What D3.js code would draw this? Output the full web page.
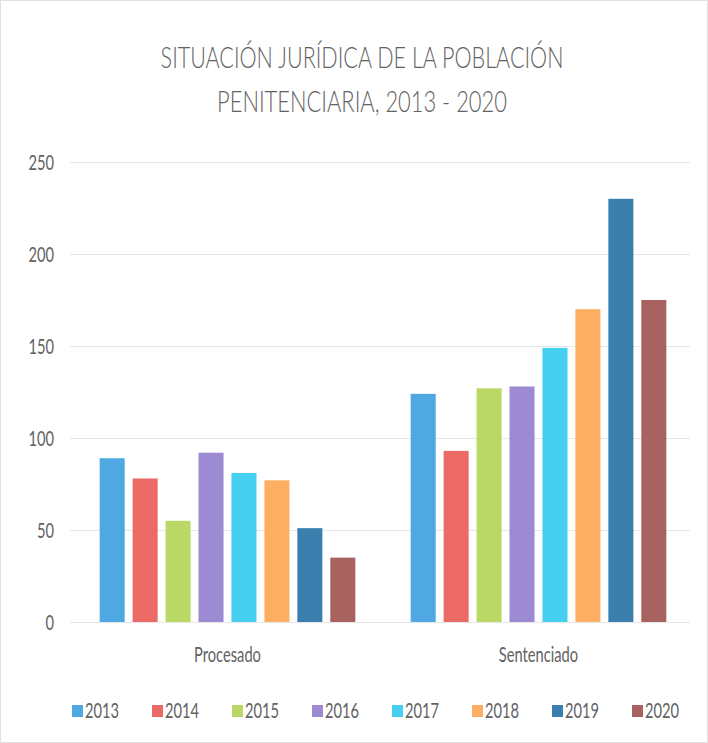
<!DOCTYPE html>
<html>
<head>
<meta charset="utf-8">
<script src="https://cdn.jsdelivr.net/npm/d3@7"></script>
<style>
	body { margin: 0; background: #fff; }
	text { font-family: Lato, "Open Sans", sans-serif; fill: #626262; }
</style>
</head>
<body>
<div id="chart"></div>
<script>
var categories = ["Procesado", "Sentenciado"];
var years = ["2013", "2014", "2015", "2016", "2017", "2018", "2019", "2020"];
var procesado = [89, 78, 55, 92, 81, 77, 51, 35];
var sentenciado = [124, 93, 127, 128, 149, 170, 230, 175];
var yTicks = [0, 50, 100, 150, 200, 250];
var colors = ["#4fa8e2", "#ec6a66", "#b9d865", "#9c8bd3", "#45d0f2", "#fdae62", "#3b7fae", "#a8625f"];
var titleLines = ["SITUACIÓN JURÍDICA DE LA POBLACIÓN", "PENITENCIARIA, 2013 - 2020"];

var seriesByCat = { "Procesado": procesado, "Sentenciado": sentenciado };

var width = 708, height = 743;
var margin = {top: 162, right: 14, bottom: 121, left: 72};
var squeeze = 0.7; // the original font is a narrow one

var svg = d3.select("#chart").append("svg")
	.attr("width", width)
	.attr("height", height);

svg.append("rect")
	.attr("x", 0.5).attr("y", 0.5)
	.attr("width", width - 1).attr("height", height - 1)
	.attr("fill", "#fff")
	.attr("stroke", "#e0e0e0");

// title, squeezed to the width of the original lines
var titleWidths = [403, 290];
svg.selectAll(".title")
	.data(titleLines)
	.enter().append("g")
	.attr("class", "title")
	.attr("transform", function(d, i) { return "translate(362," + (68 + i * 44) + ")"; })
	.append("text")
	.attr("text-anchor", "middle")
	.style("font-size", "30px")
	.style("font-weight", 300)
	.text(function(d) { return d; })
	.attr("transform", function(d, i) {
		var w = this.getComputedTextLength();
		return "scale(" + (titleWidths[i] / w) + ",1)";
	});

var y = d3.scaleLinear()
	.domain([0, 250])
	.range([height - margin.bottom, margin.top]);

var x0 = d3.scaleBand()
	.domain(categories)
	.range([margin.left, 694])
	.padding(0);

var x1 = d3.scaleBand()
	.domain(years)
	.range([0, x0.bandwidth()])
	.paddingInner(0.24)
	.paddingOuter(0.84);

// gridlines
svg.append("g")
	.selectAll("line")
	.data(yTicks)
	.enter().append("line")
	.attr("x1", margin.left - 2)
	.attr("x2", width - 18)
	.attr("y1", function(d) { return y(d) + 0.5; })
	.attr("y2", function(d) { return y(d) + 0.5; })
	.attr("stroke", "#e6e6e6")
	.attr("stroke-width", 1);

// y axis labels
var yAxis = svg.append("g")
	.attr("transform", "translate(" + (margin.left - 18) + ",0)")
	.call(d3.axisLeft(y).tickValues(yTicks).tickSize(0).tickPadding(0));
yAxis.select(".domain").remove();
yAxis.selectAll("text")
	.style("font-size", "21px")
	.attr("fill", "#626262")
	.attr("dy", "0.36em")
	.attr("transform", "scale(" + squeeze + ",1)");

// x axis labels
var xAxis = svg.append("g")
	.attr("transform", "translate(0," + (height - margin.bottom) + ")")
	.call(d3.axisBottom(x0).tickSize(0).tickPadding(25));
xAxis.select(".domain").remove();
xAxis.selectAll("text")
	.style("font-size", "21px")
	.attr("fill", "#626262")
	.attr("transform", "scale(" + squeeze + ",1)");

// bars
var groups = svg.append("g")
	.selectAll("g")
	.data(categories)
	.enter().append("g")
	.attr("transform", function(d) { return "translate(" + x0(d) + ",0)"; });

groups.selectAll("rect")
	.data(function(c) { return years.map(function(yr, i) { return {year: yr, value: seriesByCat[c][i], i: i}; }); })
	.enter().append("rect")
	.attr("x", function(d) { return x1(d.year); })
	.attr("width", x1.bandwidth())
	.attr("y", function(d) { return y(d.value); })
	.attr("height", function(d) { return y(0) - y(d.value); })
	.attr("fill", function(d) { return colors[d.i]; });

// legend
var legend = svg.append("g")
	.selectAll("g")
	.data(years)
	.enter().append("g")
	.attr("transform", function(d, i) { return "translate(" + (72 + i * 80) + ",705)"; });

legend.append("rect")
	.attr("width", 11)
	.attr("height", 12)
	.attr("fill", function(d, i) { return colors[i]; });

legend.append("g")
	.attr("transform", "translate(13,13)")
	.append("text")
	.attr("transform", "scale(" + squeeze + ",1)")
	.style("font-size", "21px")
	.text(function(d) { return d; });
</script>
</body>
</html>
